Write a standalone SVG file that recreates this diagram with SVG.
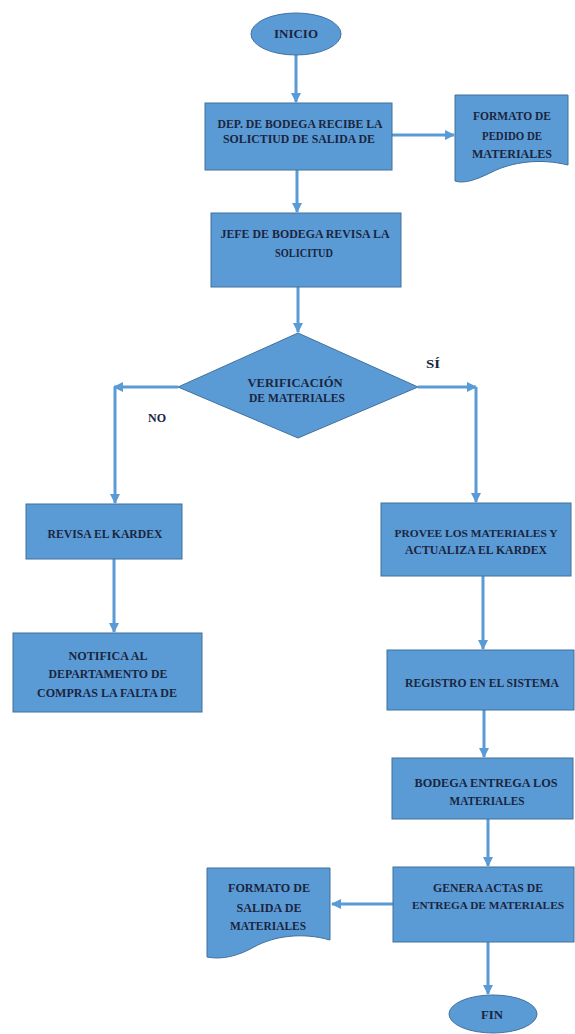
<svg xmlns="http://www.w3.org/2000/svg" width="575" height="1034" viewBox="0 0 575 1034">
<style>
.shape{fill:#5b9bd5;stroke:#41719c;stroke-width:1}
.t{font-family:"Liberation Serif",serif;font-weight:bold;font-size:12px;fill:#1a2540;text-anchor:middle}
.s{font-size:11px}
.c{fill:none;stroke:#5b9bd5;stroke-width:3}
</style>
<defs>
<marker id="ah" markerUnits="userSpaceOnUse" markerWidth="12" markerHeight="12" refX="9" refY="5" orient="auto">
<path d="M0,0 L10,5 L0,10 Z" fill="#5b9bd5"/>
</marker>
</defs>
<rect width="575" height="1034" fill="#ffffff"/>
<g id="connectors">
<path class="c" d="M296,55 V102" marker-end="url(#ah)"/>
<path class="c" d="M392,135 H454" marker-end="url(#ah)"/>
<path class="c" d="M297,170 V212" marker-end="url(#ah)"/>
<path class="c" d="M298,287 V332" marker-end="url(#ah)"/>
<path class="c" d="M178,387 H114" marker-end="url(#ah)"/>
<path class="c" d="M115,387 V503" marker-end="url(#ah)"/>
<path class="c" d="M418,387 H476" marker-end="url(#ah)"/>
<path class="c" d="M476,387 V502" marker-end="url(#ah)"/>
<path class="c" d="M114,559 V632" marker-end="url(#ah)"/>
<path class="c" d="M483,576 V649" marker-end="url(#ah)"/>
<path class="c" d="M484,710 V757" marker-end="url(#ah)"/>
<path class="c" d="M488,819 V866" marker-end="url(#ah)"/>
<path class="c" d="M393,904 H332" marker-end="url(#ah)"/>
<path class="c" d="M488,942 V994" marker-end="url(#ah)"/>
</g>
<g id="inicio">
<ellipse class="shape" cx="296" cy="34" rx="45" ry="21"/>
<text class="t" x="296" y="38" textLength="44" lengthAdjust="spacingAndGlyphs">INICIO</text>
</g>
<g id="recibe">
<rect class="shape" x="205" y="103" width="187" height="67"/>
<text class="t" x="300" y="128" textLength="165" lengthAdjust="spacingAndGlyphs">DEP. DE BODEGA RECIBE LA</text>
<text class="t" x="299" y="143" textLength="152" lengthAdjust="spacingAndGlyphs">SOLICTIUD DE SALIDA DE</text>
</g>
<g id="formato-pedido">
<path class="shape" d="M455,95 H568 V165 C540,158 512,162 492,172 C476,180 464,184 455,181 Z"/>
<text class="t" x="512" y="120" textLength="78" lengthAdjust="spacingAndGlyphs">FORMATO DE</text>
<text class="t" x="512" y="140" textLength="60" lengthAdjust="spacingAndGlyphs">PEDIDO DE</text>
<text class="t" x="512" y="158" textLength="80" lengthAdjust="spacingAndGlyphs">MATERIALES</text>
</g>
<g id="revisa-solicitud">
<rect class="shape" x="211" y="213" width="190" height="74"/>
<text class="t" x="305" y="238" textLength="169" lengthAdjust="spacingAndGlyphs">JEFE DE BODEGA REVISA LA</text>
<text class="t" x="304" y="257" textLength="58" lengthAdjust="spacingAndGlyphs">SOLICITUD</text>
</g>
<g id="verificacion">
<polygon class="shape" points="298,333 418,387 298,438 178,387"/>
<text class="t" x="295" y="387" textLength="95" lengthAdjust="spacingAndGlyphs">VERIFICACIÓN</text>
<text class="t" x="297" y="402" textLength="96" lengthAdjust="spacingAndGlyphs">DE MATERIALES</text>
</g>
<text class="t" x="433" y="368" textLength="14" lengthAdjust="spacingAndGlyphs">SÍ</text>
<text class="t" x="157" y="422" textLength="18" lengthAdjust="spacingAndGlyphs">NO</text>
<g id="revisa-kardex">
<rect class="shape" x="26" y="504" width="156" height="55"/>
<text class="t" x="105" y="538" textLength="115" lengthAdjust="spacingAndGlyphs">REVISA EL KARDEX</text>
</g>
<g id="notifica">
<rect class="shape" x="13" y="633" width="189" height="79"/>
<text class="t" x="108" y="660" textLength="79" lengthAdjust="spacingAndGlyphs">NOTIFICA AL</text>
<text class="t" x="108" y="678" textLength="119" lengthAdjust="spacingAndGlyphs">DEPARTAMENTO DE</text>
<text class="t" x="107" y="697" textLength="140" lengthAdjust="spacingAndGlyphs">COMPRAS LA FALTA DE</text>
</g>
<g id="provee">
<rect class="shape" x="381" y="503" width="190" height="73"/>
<text class="t s" x="476" y="537" textLength="163" lengthAdjust="spacingAndGlyphs">PROVEE LOS MATERIALES Y</text>
<text class="t" x="476" y="554" textLength="142" lengthAdjust="spacingAndGlyphs">ACTUALIZA EL KARDEX</text>
</g>
<g id="registro">
<rect class="shape" x="387" y="650" width="187" height="60"/>
<text class="t" x="482" y="687" textLength="154" lengthAdjust="spacingAndGlyphs">REGISTRO EN EL SISTEMA</text>
</g>
<g id="entrega">
<rect class="shape" x="392" y="758" width="181" height="61"/>
<text class="t" x="486" y="787" textLength="143" lengthAdjust="spacingAndGlyphs">BODEGA ENTREGA LOS</text>
<text class="t" x="487" y="805" textLength="75" lengthAdjust="spacingAndGlyphs">MATERIALES</text>
</g>
<g id="genera">
<rect class="shape" x="393" y="867" width="181" height="75"/>
<text class="t" x="488" y="892" textLength="110" lengthAdjust="spacingAndGlyphs">GENERA ACTAS DE</text>
<text class="t s" x="488" y="909" textLength="152" lengthAdjust="spacingAndGlyphs">ENTREGA DE MATERIALES</text>
</g>
<g id="formato-salida">
<path class="shape" d="M207,868 H330 V940 C302,932 274,936 254,947 C238,956 222,960 207,957 Z"/>
<text class="t" x="269" y="892" textLength="82" lengthAdjust="spacingAndGlyphs">FORMATO DE</text>
<text class="t" x="269" y="912" textLength="65" lengthAdjust="spacingAndGlyphs">SALIDA DE</text>
<text class="t" x="268" y="930" textLength="76" lengthAdjust="spacingAndGlyphs">MATERIALES</text>
</g>
<g id="fin">
<ellipse class="shape" cx="493" cy="1014" rx="44" ry="19"/>
<text class="t" x="492" y="1019" textLength="22" lengthAdjust="spacingAndGlyphs">FIN</text>
</g>
</svg>
